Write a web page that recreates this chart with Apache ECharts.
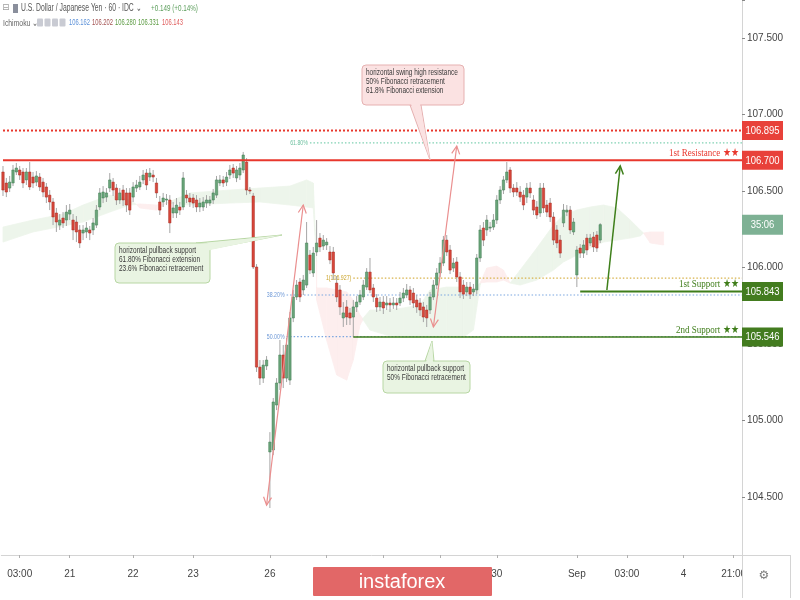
<!DOCTYPE html>
<html>
<head>
<meta charset="utf-8">
<title>USDJPY 60</title>
<script src="https://cdn.jsdelivr.net/npm/echarts@6/dist/echarts.min.js"></script>
<style>
  html, body { margin: 0; padding: 0; background: #fff; }
  #chart { width: 800px; height: 600px; }
</style>
</head>
<body>
<div id="chart"></div>
<script>
// ---- data -----------------------------------------------------------------
// hourly bars, each row: [open, close, low, high]
const bars = [
  [106.624,106.506,106.467,106.663],[106.552,106.493,106.460,106.585],[106.519,106.558,106.493,106.598],
  [106.552,106.637,106.532,106.670],[106.624,106.650,106.604,106.683],[106.637,106.604,106.572,106.663],
  [106.624,106.552,106.519,106.650],[106.572,106.624,106.539,106.650],[106.624,106.526,106.506,106.689],
  [106.591,106.552,106.519,106.624],[106.558,106.598,106.532,106.630],[106.591,106.526,106.500,106.617],
  [106.558,106.493,106.460,106.585],[106.526,106.460,106.421,106.552],[106.473,106.428,106.375,106.506],
  [106.428,106.330,106.277,106.454],[106.356,106.297,106.232,106.389],[106.277,106.310,106.245,106.349],
  [106.323,106.291,106.258,106.362],[106.310,106.362,106.271,106.408],[106.349,106.375,106.310,106.415],
  [106.310,106.245,106.179,106.349],[106.297,106.232,106.166,106.336],[106.245,106.160,106.127,106.277],
  [106.225,106.245,106.179,106.277],[106.232,106.258,106.192,106.297],[106.245,106.225,106.179,106.271],
  [106.245,106.291,106.212,106.323],[106.277,106.375,106.258,106.408],[106.395,106.487,106.375,106.519],
  [106.454,106.493,106.421,106.532],[106.460,106.487,106.428,106.519],[106.519,106.572,106.493,106.617],
  [106.558,106.506,106.467,106.585],[106.519,106.441,106.408,106.545],[106.441,106.487,106.415,106.519],
  [106.506,106.441,106.402,106.539],[106.487,106.408,106.362,106.519],[106.487,106.375,106.343,106.519],
  [106.460,106.526,106.428,106.558],[106.519,106.539,106.493,106.572],[106.526,106.558,106.506,106.598],
  [106.572,106.604,106.545,106.637],[106.617,106.539,106.506,106.643],[106.591,106.617,106.565,106.650],
  [106.604,106.591,106.558,106.637],[106.552,106.487,106.454,106.585],[106.428,106.375,106.343,106.467],
  [106.428,106.454,106.395,106.487],[106.441,106.447,106.408,106.480],[106.441,106.291,106.225,106.473],
  [106.356,106.389,106.323,106.428],[106.356,106.408,106.323,106.454],[106.395,106.375,106.343,106.428],
  [106.395,106.585,106.375,106.624],[106.473,106.454,106.421,106.506],[106.454,106.428,106.395,106.487],
  [106.454,106.421,106.389,106.480],[106.441,106.395,106.362,106.473],[106.395,106.421,106.362,106.454],
  [106.395,106.428,106.369,106.460],[106.421,106.441,106.389,106.473],[106.421,106.441,106.402,106.467],
  [106.441,106.487,106.415,106.513],[106.473,106.572,106.454,106.598],[106.552,106.572,106.532,106.604],
  [106.572,106.552,106.526,106.598],[106.558,106.591,106.532,106.624],[106.604,106.637,106.578,106.670],
  [106.650,106.617,106.585,106.676],[106.585,106.637,106.558,106.663],[106.604,106.650,106.572,106.683],
  [106.637,106.735,106.617,106.755],[106.689,106.506,106.473,106.715],[106.506,106.500,106.480,106.526],
  [106.467,106.003,105.990,106.487],[106.003,105.349,105.317,106.022],[105.349,105.277,105.232,105.395],
  [105.277,105.362,105.245,105.395],[105.356,105.395,105.330,105.421],
  // Monday 26
  [104.794,104.859,104.428,104.924],[104.807,105.121,104.774,105.147],[105.101,105.245,105.068,105.277],
  [105.245,105.428,105.199,105.526],[105.428,105.277,105.212,105.493],[105.277,105.493,105.251,105.539],
  [105.264,105.670,105.232,105.709],[105.670,105.807,105.643,105.853],[105.807,105.885,105.787,105.918],
  [105.905,105.807,105.774,105.931],[105.853,105.918,105.820,105.951],[105.885,106.160,105.866,106.297],
  [106.081,105.983,105.957,106.114],[105.964,106.094,105.938,106.134],[106.101,106.160,106.075,106.310],
  [106.192,106.134,106.101,106.225],[106.140,106.179,106.114,106.212],[106.147,106.166,106.114,106.192],
  [106.101,106.049,106.022,106.140],[106.101,105.964,105.918,106.134],[105.898,105.807,105.774,105.944],
  [105.853,105.742,105.689,105.885],[105.670,105.703,105.611,105.774],[105.742,105.676,105.624,105.787],
  [105.703,105.670,105.624,105.735],[105.676,105.742,105.545,105.787],[105.742,105.774,105.709,105.813],
  [105.774,105.820,105.755,105.853],[105.807,105.885,105.787,105.918],[105.872,105.970,105.853,105.996],
  [105.970,105.853,105.833,106.062],[105.866,105.807,105.774,105.892],[105.800,105.742,105.709,105.826],
  [105.742,105.774,105.715,105.807],[105.774,105.735,105.696,105.813],[105.755,105.768,105.722,105.813],
  [105.768,105.755,105.709,105.800],[105.755,105.768,105.729,105.807],[105.768,105.755,105.722,105.800],
  [105.768,105.800,105.748,105.840],[105.800,105.833,105.774,105.866],[105.820,105.853,105.800,105.892],
  [105.853,105.787,105.755,105.879],[105.833,105.768,105.735,105.866],[105.787,105.742,105.703,105.820],
  [105.768,105.722,105.683,105.800],[105.742,105.676,105.643,105.774],[105.722,105.670,105.611,105.755],
  [105.722,105.807,105.696,105.840],[105.807,105.885,105.787,105.918],[105.885,105.964,105.859,105.996],
  [105.964,106.029,105.938,106.068],[106.029,106.179,106.009,106.206],[106.179,106.101,106.075,106.212],
  [106.114,105.983,105.957,106.147],[105.996,106.029,105.970,106.062],[106.036,105.938,105.905,106.068],
  [105.938,105.840,105.800,105.970],[105.885,105.826,105.794,105.918],[105.840,105.872,105.813,105.905],
  [105.872,105.826,105.794,105.905],[105.840,105.859,105.813,105.892],[105.853,106.062,105.826,106.088],
  [106.062,106.245,106.036,106.277],[106.258,106.179,106.140,106.297],[106.245,106.310,106.206,106.343],
  [106.258,106.264,106.232,106.297],[106.264,106.310,106.245,106.349],[106.310,106.441,106.284,106.473],
  [106.441,106.506,106.415,106.532],[106.506,106.572,106.480,106.598],[106.572,106.624,106.552,106.689],
  [106.637,106.519,106.487,106.656],[106.519,106.493,106.460,106.545],[106.519,106.493,106.467,106.558],
  [106.493,106.460,106.428,106.532],[106.473,106.408,106.375,106.506],[106.460,106.519,106.421,106.552],
  [106.519,106.487,106.454,106.558],[106.441,106.375,106.343,106.473],[106.395,106.343,106.317,106.434],
  [106.356,106.519,106.330,106.552],[106.519,106.389,106.356,106.552],[106.408,106.362,106.330,106.441],
  [106.421,106.330,106.297,106.454],[106.330,106.179,106.147,106.362],[106.245,106.160,106.127,106.277],
  [106.179,106.094,106.062,106.212],[106.291,106.375,106.264,106.415],[106.362,106.375,106.336,106.408],
  [106.375,106.245,106.219,106.402],[106.232,106.297,106.212,106.323],
  // September
  [105.951,106.114,105.872,106.140],[106.127,106.094,106.062,106.153],[106.094,106.147,106.062,106.179],
  [106.192,106.114,106.081,106.219],[106.160,106.192,106.140,106.219],[106.199,106.134,106.101,106.232],
  [106.212,106.127,106.101,106.238],[106.179,106.280,106.160,106.290]
];

// time scale: bar slots (including the projected area on the right) and date labels
const slotCount = 222;
const timeLabels = [
  [5, '03:00'], [20, '21'], [39, '22'], [57, '23'], [80, '26'], [97, '27'], [114, '28'],
  [131, '29'], [148, '30'], [172, 'Sep'], [187, '03:00'], [204, '4'], [219, '21:00']
];

// Ichimoku cloud (leading spans A and B)
const cloudIdx = [0, 9, 18, 24, 32, 38, 41, 46, 49, 56, 68, 77, 86, 91, 93,
  94, 97, 100, 103, 105, 107, 108, 110, 115, 120, 125, 128, 133, 138, 141, 143,
  145, 148, 150, 152, 155, 160, 165, 168, 172, 176, 180, 184, 188, 191, 192, 194, 198];
const spanA = [106.264, 106.310, 106.349, 106.408, 106.473, 106.441, 106.389, 106.375, 106.421, 106.487, 106.506, 106.519, 106.532, 106.572, 106.552,
  105.787, 105.526, 105.297, 105.264, 105.395, 105.624, 105.670, 105.722, 105.722, 105.735, 105.755, 105.853, 105.872, 105.872, 105.853, 105.898,
  105.905, 105.905, 105.918, 105.898, 105.983, 106.127, 106.277, 106.343, 106.375, 106.395, 106.408, 106.389, 106.310, 106.245, 106.225, 106.160, 106.147];
const spanB = [106.166, 106.232, 106.271, 106.297, 106.362, 106.408, 106.415, 106.408, 106.421, 106.408, 106.421, 106.428, 106.408, 106.395, 106.389,
  105.866, 105.866, 105.853, 105.840, 105.787, 105.689, 105.656, 105.591, 105.558, 105.545, 105.545, 105.545, 105.545, 105.545, 105.591, 105.885,
  105.996, 106.009, 105.983, 105.898, 105.885, 105.918, 105.983, 106.036, 106.081, 106.127, 106.166, 106.179, 106.192, 106.206, 106.225, 106.232, 106.232];

// support / resistance levels
const levelPrices = [106.895, 106.700, 105.843, 105.546];
const levelNames = ['', '1st Resistance \u2605\u2605', '1st Support \u2605\u2605', '2nd Support \u2605\u2605'];

// Fibonacci levels
const fibPrices = [106.814, 105.931, 105.820, 105.548];
const fibNames = ['61.80%', '1(106.927)', '38.20%', '50.00%'];

// trend arrows: [fromBar, fromPrice, toBar, toPrice]
const arrowPaths = [
  [79.1, 104.447, 89.6, 106.408],
  [128.8, 105.611, 135.9, 106.794],
  [181.1, 105.853, 185.0, 106.663]
];

// callout notes
const noteResistance = ['horizontal swing high resistance', '50% Fibonacci retracement', '61.8% Fibonacci extension'];
const notePullback1 = ['horizontal pullback support', '61.80% Fibonacci extension', '23.6% Fibonacci retracement'];
const notePullback2 = ['horizontal pullback support', '50% Fibonacci retracement'];

const headerTitle = 'U.S. Dollar / Japanese Yen \u00b7 60 \u00b7 IDC \u2304';
const headerChange = '+0.149 (+0.14%)';
const ichimokuValues = ['106.162', '106.202', '106.280', '106.331', '106.143'];
const countdown = '35:06';

// ---- drawing ----------------------------------------------------------------
const SANS = "'Liberation Sans',Arial,sans-serif";
const UP = { fill: '#6aa57a', stroke: '#3f7a50' };
const DOWN = { fill: '#d8473b', stroke: '#a4291f' };
const WICK = '#a6a6a6';
const CLOUD_UP = '#edf5eb';
const CLOUD_DOWN = '#fdeeee';

const categories = new Array(slotCount).fill('');
timeLabels.forEach(([i, t]) => { categories[i] = t; });

const levelStyle = [
  { from: -0.5, color: '#e8372d', width: 2, dash: [2, 2], box: '#e8413a' },
  { from: -0.5, color: '#e8372d', width: 2, dash: null, box: '#e8413a' },
  { from: 172.5, color: '#3f7d1a', width: 2, dash: null, box: '#437c1f' },
  { from: 104.8, color: '#3f7d1a', width: 1.6, dash: null, box: '#437c1f' }
];
const fibStyle = [
  { from: 91.7, color: '#7fd1b2', label: '#6cc09f' },
  { from: 104.8, color: '#d8b24a', label: '#c9a227' },
  { from: 84.5, color: '#7ba6e0', label: '#6b97d6' },
  { from: 84.5, color: '#7ba6e0', label: '#6b97d6' }
];
const arrowStyle = [
  { color: '#ea8f8f', width: 1.2, heads: [true, true] },
  { color: '#ea8f8f', width: 1.2, heads: [true, true] },
  { color: '#3e7f1a', width: 1.5, heads: [false, true] }
];

function renderCloud(params, api) {
  const k = params.dataIndex;
  if (k >= cloudIdx.length - 1) return null;
  const x0 = cloudIdx[k], x1 = cloudIdx[k + 1];
  const a0 = spanA[k], a1 = spanA[k + 1], b0 = spanB[k], b1 = spanB[k + 1];
  const d0 = a0 - b0, d1 = a1 - b1;
  const poly = (pts, bull) => {
    const c = bull ? CLOUD_UP : CLOUD_DOWN;
    return { type: 'polygon', shape: { points: pts.map(p => api.coord(p)) },
      style: { fill: c, stroke: c, lineWidth: 0.8 } };
  };
  const kids = [];
  if (d0 * d1 < 0) {
    const t = d0 / (d0 - d1);
    const xm = x0 + t * (x1 - x0), ym = a0 + t * (a1 - a0);
    kids.push(poly([[x0, a0], [xm, ym], [x0, b0]], d0 > 0));
    kids.push(poly([[xm, ym], [x1, a1], [x1, b1]], d1 > 0));
  } else {
    kids.push(poly([[x0, a0], [x1, a1], [x1, b1], [x0, b0]], d0 + d1 >= 0));
  }
  return { type: 'group', children: kids };
}

function renderBar(params, api) {
  const i = api.value(0), o = api.value(1), c = api.value(2), l = api.value(3), h = api.value(4);
  const pO = api.coord([i, o]), pC = api.coord([i, c]);
  const pL = api.coord([i, l]), pH = api.coord([i, h]);
  const x = pO[0];
  const bull = c >= o;
  const top = Math.min(pO[1], pC[1]);
  const hgt = Math.max(1, Math.abs(pO[1] - pC[1]));
  const s = bull ? UP : DOWN;
  return { type: 'group', children: [
    { type: 'line', shape: { x1: x, y1: pH[1], x2: x, y2: pL[1] }, style: { stroke: WICK, lineWidth: 1 } },
    { type: 'rect', shape: { x: x - 1.2, y: top, width: 2.4, height: hgt }, style: { fill: s.fill, stroke: s.stroke, lineWidth: 0.5 } }
  ] };
}

function renderFib(params, api) {
  const k = params.dataIndex;
  const cs = params.coordSys;
  const p = api.coord([api.value(0), api.value(1)]);
  const st = fibStyle[k];
  return { type: 'group', children: [
    { type: 'line', shape: { x1: p[0], y1: p[1], x2: cs.x + cs.width, y2: p[1] },
      style: { stroke: st.color, lineWidth: 1.2, lineDash: [1.5, 2] } },
    { type: 'text', x: p[0] - 2, y: p[1], scaleX: 0.75,
      style: { text: fibNames[k], x: 0, y: 0, align: 'right', verticalAlign: 'middle', fill: st.label, font: '7px ' + SANS } }
  ] };
}

function renderLevel(params, api) {
  const k = params.dataIndex;
  const cs = params.coordSys;
  const right = cs.x + cs.width;
  const p = api.coord([api.value(0), api.value(1)]);
  const y = p[1];
  const st = levelStyle[k];
  const kids = [
    { type: 'line', shape: { x1: Math.max(cs.x, p[0]), y1: y, x2: right, y2: y },
      style: { stroke: st.color, lineWidth: st.width, lineDash: st.dash } },
    { type: 'rect', shape: { x: right, y: y - 9.5, width: 41, height: 19 }, style: { fill: st.box } },
    { type: 'text', x: right + 20.5, y: y + 0.5, scaleX: 0.86,
      style: { text: levelPrices[k].toFixed(3), x: 0, y: 0, align: 'center',
      verticalAlign: 'middle', fill: '#ffffff', font: '11px ' + SANS } }
  ];
  if (levelNames[k]) {
    kids.push({ type: 'text', x: right - 3, y: y - 1.5, scaleX: 0.82,
      style: { text: levelNames[k], x: 0, y: 0, align: 'right', verticalAlign: 'bottom',
        fill: st.color, font: "11px 'Liberation Serif','DejaVu Serif',serif" } });
  }
  return { type: 'group', children: kids };
}

function renderCountdown(params, api) {
  const cs = params.coordSys;
  const right = cs.x + cs.width;
  const y = api.coord([api.value(0), api.value(1)])[1];
  return { type: 'group', children: [
    { type: 'rect', shape: { x: right, y: y - 10, width: 41, height: 20 }, style: { fill: '#7eb194' } },
    { type: 'text', x: right + 20.5, y: y + 0.5, scaleX: 0.86,
      style: { text: countdown, x: 0, y: 0, align: 'center', verticalAlign: 'middle',
      fill: '#ffffff', font: '11px ' + SANS } }
  ] };
}

function chevron(tip, from, col, w) {
  const dx = tip[0] - from[0], dy = tip[1] - from[1];
  const len = Math.hypot(dx, dy) || 1;
  const ux = dx / len, uy = dy / len, nx = -uy, ny = ux;
  const L = 8, W = 4;
  return { type: 'polyline', shape: { points: [
    [tip[0] - L * ux + W * nx, tip[1] - L * uy + W * ny], tip,
    [tip[0] - L * ux - W * nx, tip[1] - L * uy - W * ny]] },
    style: { stroke: col, lineWidth: w, fill: null } };
}

function renderArrow(params, api) {
  const k = params.dataIndex;
  const st = arrowStyle[k];
  const a = api.coord([api.value(0), api.value(1)]);
  const b = api.coord([api.value(2), api.value(3)]);
  const kids = [{ type: 'line', shape: { x1: a[0], y1: a[1], x2: b[0], y2: b[1] }, style: { stroke: st.color, lineWidth: st.width } }];
  if (st.heads[0]) kids.push(chevron(a, b, st.color, st.width));
  if (st.heads[1]) kids.push(chevron(b, a, st.color, st.width));
  return { type: 'group', children: kids };
}

function note(lines, x, y, w, h, tail, fill, stroke) {
  const els = [
    { type: 'polygon', z: 50, shape: { points: tail }, style: { fill: fill, stroke: stroke, lineWidth: 1 } },
    { type: 'rect', z: 51, shape: { x: x, y: y, width: w, height: h, r: 4 }, style: { fill: fill, stroke: stroke, lineWidth: 1 } },
    // cover the tail's base so the tail joins the box
    { type: 'polygon', z: 52, shape: { points: tail.slice(0, 2).map((p, j) => [p[0] + (j ? -1 : 1), p[1] + (p[1] > y + h / 2 ? -1.2 : 1.2)]).concat([tail[2]]) },
      style: { fill: fill } }
  ];
  lines.forEach((t, j) => {
    els.push({ type: 'text', z: 53, x: x + 4, y: y + 8 + j * 8.6, scaleX: 0.72,
      style: { text: t, x: 0, y: 0, verticalAlign: 'middle', fill: '#3a3a3a', font: '9px ' + SANS } });
  });
  return els;
}

function headText(text, x, y, color, size, sx) {
  return { type: 'text', x: x, y: y, scaleX: sx,
    style: { text: text, x: 0, y: 0, fill: color, font: size + 'px ' + SANS, verticalAlign: 'middle' } };
}

const chart = echarts.init(document.getElementById('chart'));
const lastBar = bars.length - 1;

const graphics = [].concat(
  note(noteResistance, 362, 65, 102, 40, [[410, 105], [421, 105], [430, 160]], '#fbe2e2', '#e6b1b1'),
  note(notePullback1, 115, 243, 95, 40, [[196, 243], [210, 249], [282, 235]], '#e9f4e2', '#b8d7a4'),
  note(notePullback2, 383, 361, 87, 32, [[425, 361], [434, 361], [432, 341]], '#e9f4e2', '#b8d7a4'),
  [
    // header
    { type: 'text', x: 2, y: 8, style: { text: '\u229f', fill: '#a0a0a0', font: '9px DejaVu Sans', verticalAlign: 'middle' } },
    { type: 'rect', shape: { x: 13, y: 4, width: 5, height: 9 }, style: { fill: '#8a8f9c' } },
    headText(headerTitle, 21, 8.5, '#555555', 10, 0.68),
    headText(headerChange, 151, 8.5, '#5c9e5c', 9, 0.7),
    headText('Ichimoku \u2304', 3, 23, '#666666', 9.5, 0.72),
    { type: 'rect', shape: { x: 37, y: 18.5, width: 6, height: 8, r: 1 }, style: { fill: '#c9cbd3' } },
    { type: 'rect', shape: { x: 44.5, y: 18.5, width: 6, height: 8, r: 1 }, style: { fill: '#c9cbd3' } },
    { type: 'rect', shape: { x: 52, y: 18.5, width: 6, height: 8, r: 1 }, style: { fill: '#c9cbd3' } },
    { type: 'rect', shape: { x: 59.5, y: 18.5, width: 6, height: 8, r: 1 }, style: { fill: '#c9cbd3' } },
    headText(ichimokuValues[0], 69, 23, '#5b90d8', 8.5, 0.68),
    headText(ichimokuValues[1], 92, 23, '#a35252', 8.5, 0.68),
    headText(ichimokuValues[2], 115, 23, '#5a9a40', 8.5, 0.68),
    headText(ichimokuValues[3], 138, 23, '#5a9a40', 8.5, 0.68),
    headText(ichimokuValues[4], 162, 23, '#e05c5c', 8.5, 0.68),
    // bottom strip and corner
    { type: 'rect', z: 40, shape: { x: 742, y: 556, width: 58, height: 44 }, style: { fill: '#ffffff' } },
    { type: 'line', z: 41, shape: { x1: 742, y1: 555.5, x2: 790, y2: 555.5 }, style: { stroke: '#d4d4d4', lineWidth: 1 } },
    { type: 'line', z: 41, shape: { x1: 742.5, y1: 555, x2: 742.5, y2: 598 }, style: { stroke: '#d4d4d4', lineWidth: 1 } },
    { type: 'line', z: 41, shape: { x1: 790.5, y1: 555, x2: 790.5, y2: 598 }, style: { stroke: '#d4d4d4', lineWidth: 1 } },
    { type: 'text', z: 42, x: 764, y: 576, style: { text: '\u2699', fill: '#7a7a7a', font: '12px DejaVu Sans', align: 'center', verticalAlign: 'middle' } },
    // watermark
    { type: 'rect', z: 60, shape: { x: 313, y: 567, width: 179, height: 29, r: 1 }, style: { fill: '#e26767' } },
    { type: 'text', z: 61, x: 402, y: 582, style: { text: 'instaforex', fill: '#ffffff', font: "20px 'Liberation Sans',sans-serif", align: 'center', verticalAlign: 'middle' } }
  ]
);

chart.setOption({
  animation: false,
  backgroundColor: '#ffffff',
  grid: { left: 0, right: 58, top: 0, height: 573.5, containLabel: false },
  xAxis: {
    type: 'category', data: categories, boundaryGap: true, position: 'bottom', offset: -18.5,
    axisLine: { show: true, lineStyle: { color: '#d4d4d4' } },
    axisTick: { show: true, alignWithLabel: true, length: 3, interval: (i, v) => v !== '', lineStyle: { color: '#b0b0b0' } },
    axisLabel: { interval: 0, margin: 14, color: '#444', fontSize: 10, fontFamily: SANS },
    splitLine: { show: false }
  },
  yAxis: {
    type: 'value', position: 'right', min: 104, max: 107.748, interval: 0.5, scale: true,
    axisLine: { show: true, lineStyle: { color: '#d4d4d4' } },
    axisTick: { show: true, length: 3, lineStyle: { color: '#888' } },
    axisLabel: { margin: 5, color: '#444', fontSize: 10, fontFamily: SANS,
      formatter: v => (v < 104.3 || v > 107.6) ? '' : v.toFixed(3) },
    splitLine: { show: false }
  },
  series: [
    { type: 'custom', name: 'cloud', z: 1, renderItem: renderCloud,
      data: cloudIdx.map((x, k) => [x, spanA[k], spanB[k]]), encode: { x: 0, y: [1, 2] }, silent: true },
    { type: 'custom', name: 'fib', z: 2, renderItem: renderFib,
      data: fibPrices.map((p, k) => [fibStyle[k].from, p]), encode: { x: 0, y: 1 }, silent: true },
    { type: 'custom', name: 'USDJPY', z: 3, renderItem: renderBar,
      data: bars.map((b, i) => [i, b[0], b[1], b[2], b[3]]), encode: { x: 0, y: [1, 2, 3, 4] } },
    { type: 'custom', name: 'levels', z: 4, renderItem: renderLevel,
      data: levelPrices.map((p, k) => [levelStyle[k].from, p]), encode: { x: 0, y: 1 }, silent: true },
    { type: 'custom', name: 'countdown', z: 4, renderItem: renderCountdown,
      data: [[lastBar, bars[lastBar][1]]], encode: { x: 0, y: 1 }, silent: true },
    { type: 'custom', name: 'arrows', z: 5, renderItem: renderArrow,
      data: arrowPaths, encode: { x: [0, 2], y: [1, 3] }, silent: true }
  ],
  graphic: graphics
});
</script>
</body>
</html>
